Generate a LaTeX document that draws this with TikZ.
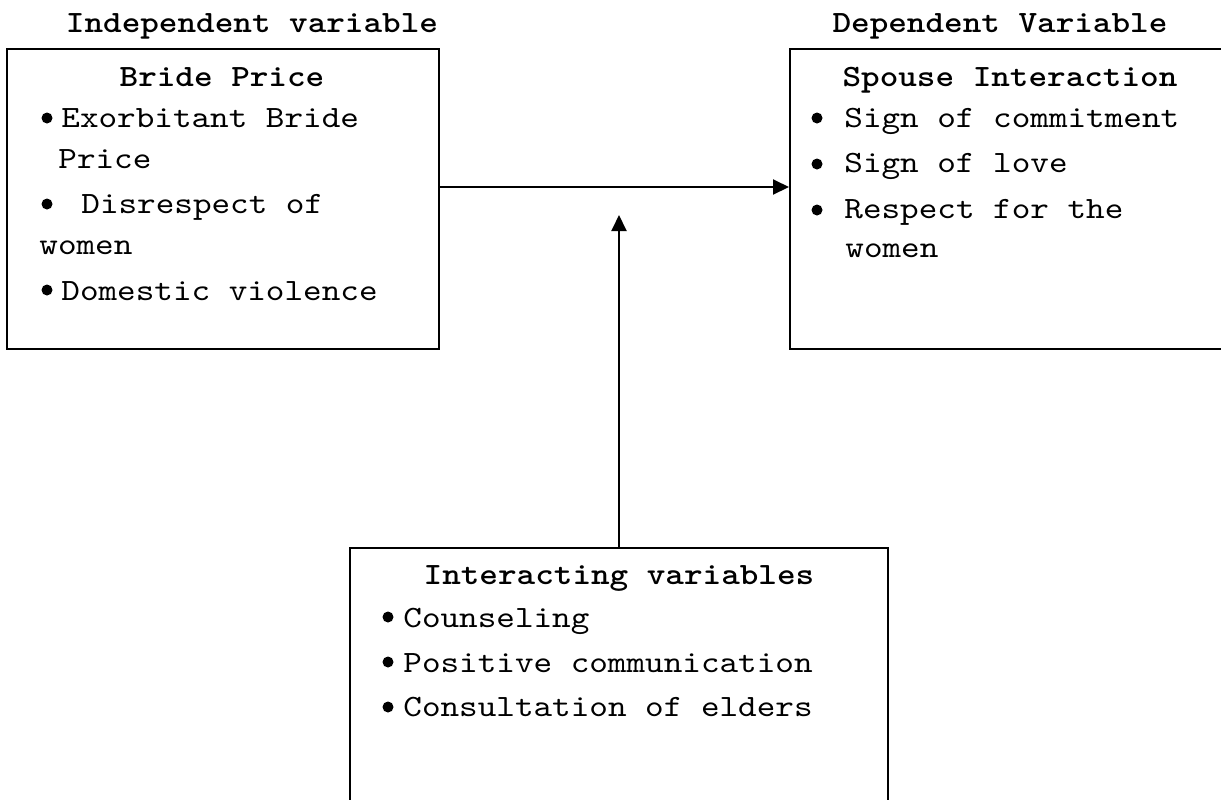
\documentclass[tikz,border=0pt]{standalone}
\usepackage{fontspec}
\setmainfont{lmmono10-regular.otf}[BoldFont = lmmonolt10-bold.otf, FakeStretch = 1.143]
\usetikzlibrary{arrows.meta}

\begin{document}
\fontsize{15.5}{18}\selectfont
\begin{tikzpicture}[x = 0.5pt, y = -0.5pt]
	\tikzstyle{boxStyle} = [draw, line width = 1pt, inner sep = 0pt]
	\tikzstyle{headStyle} = [anchor = base, inner sep = 0pt, font = \bfseries]
	\tikzstyle{itemStyle} = [anchor = base west, inner sep = 0pt]
	\tikzstyle{dotStyle} = [shape = circle, fill, minimum size = 5.5pt, inner sep = 0pt]
	\tikzstyle{arrowStyle} = [line width = 1pt, -{Triangle[length = 8pt, width = 7.5pt]}]
	\useasboundingbox (0,0) rectangle (1221,799);
	\clip (0,0) rectangle (1221,799);
	\node[headStyle] (indepTitle) at (252,32) {Independent variable};
	\node[headStyle] (depTitle) at (1000,32) {Dependent Variable};
	\node[boxStyle, minimum width = 216pt, minimum height = 150pt] (bride) at (223,199) {};
	\node[boxStyle, minimum width = 225pt, minimum height = 150pt] (spouse) at (1015,199) {};
	\node[boxStyle, minimum width = 269pt, minimum height = 146pt] (inter) at (619,694) {};
	\node[headStyle] (brideHead) at (222,86) {Bride Price};
	\node[dotStyle] (brideDotA) at (47,118) {};
	\node[itemStyle] (brideItemA) at (61,127) {Exorbitant Bride};
	\node[itemStyle] (brideItemAb) at (58,168) {Price};
	\node[dotStyle] (brideDotB) at (47,204) {};
	\node[itemStyle] (brideItemB) at (81,213) {Disrespect of};
	\node[itemStyle] (brideItemBb) at (39,254) {women};
	\node[dotStyle] (brideDotC) at (47,290) {};
	\node[itemStyle] (brideItemC) at (61,300) {Domestic violence};
	\node[headStyle] (spouseHead) at (1010,86) {Spouse Interaction};
	\node[dotStyle] (spouseDotA) at (817,118) {};
	\node[itemStyle] (spouseItemA) at (844,127) {Sign of commitment};
	\node[dotStyle] (spouseDotB) at (817,164) {};
	\node[itemStyle] (spouseItemB) at (844,172) {Sign of love};
	\node[dotStyle] (spouseDotC) at (817,210) {};
	\node[itemStyle] (spouseItemC) at (844,218) {Respect for the};
	\node[itemStyle] (spouseItemCb) at (845,257) {women};
	\node[headStyle] (interHead) at (619,584) {Interacting variables};
	\node[dotStyle] (interDotA) at (388,617) {};
	\node[itemStyle] (interItemA) at (403,627) {Counseling};
	\node[dotStyle] (interDotB) at (388,662) {};
	\node[itemStyle] (interItemB) at (403,672) {Positive communication};
	\node[dotStyle] (interDotC) at (388,707) {};
	\node[itemStyle] (interItemC) at (403,716) {Consultation of elders};
	\coordinate (tip) at (619,215);
	\draw[arrowStyle] ([yshift = 6pt]bride.east) -- ([yshift = 6pt]spouse.west);
	\draw[arrowStyle] (inter.north) -- (tip);
\end{tikzpicture}
\end{document}
